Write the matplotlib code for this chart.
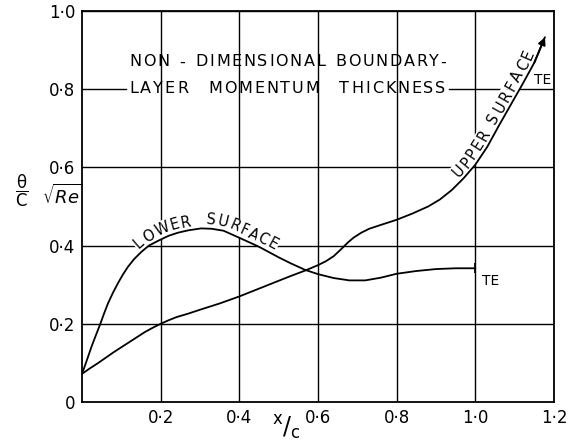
import numpy as np
import matplotlib
matplotlib.use('Agg')
import matplotlib.pyplot as plt

# ---- data ----
upper_x = [0, 0.02, 0.04, 0.06, 0.08, 0.1, 0.12, 0.14, 0.16, 0.18, 0.2, 0.22, 0.24, 0.27,
           0.3, 0.35, 0.4, 0.45, 0.5, 0.53, 0.567, 0.6, 0.62, 0.64, 0.66, 0.675, 0.69,
           0.71, 0.73, 0.76, 0.8, 0.84, 0.88, 0.91, 0.94, 0.97, 1.0, 1.03, 1.06, 1.09,
           1.12, 1.15, 1.177]
upper_y = [0.072, 0.086, 0.099, 0.113, 0.127, 0.14, 0.153, 0.166, 0.179, 0.19, 0.2, 0.209,
           0.217, 0.226, 0.236, 0.252, 0.27, 0.29, 0.31, 0.322, 0.336, 0.35, 0.36, 0.373,
           0.392, 0.407, 0.42, 0.433, 0.443, 0.453, 0.466, 0.482, 0.5, 0.518, 0.542, 0.572,
           0.607, 0.652, 0.707, 0.76, 0.813, 0.868, 0.933]

lower_x = [0, 0.01, 0.024, 0.035, 0.047, 0.056, 0.066, 0.078, 0.0915, 0.104, 0.117, 0.133,
           0.151, 0.17, 0.197, 0.22, 0.244, 0.27, 0.303, 0.33, 0.36, 0.4, 0.45, 0.5, 0.53,
           0.567, 0.6, 0.64, 0.68, 0.72, 0.76, 0.8, 0.85, 0.9, 0.95, 1.0]
lower_y = [0.072, 0.1, 0.141, 0.17, 0.201, 0.226, 0.252, 0.278, 0.304, 0.326, 0.346, 0.366,
           0.384, 0.4, 0.414, 0.425, 0.433, 0.439, 0.444, 0.443, 0.438, 0.42, 0.397, 0.37,
           0.355, 0.338, 0.327, 0.317, 0.311, 0.311, 0.318, 0.328, 0.335, 0.34, 0.342, 0.342]

x_ticks = [0.2, 0.4, 0.6, 0.8, 1.0, 1.2]
x_tick_labels = ['0·2', '0·4', '0·6', '0·8', '1·0', '1·2']
y_ticks = [0, 0.2, 0.4, 0.6, 0.8, 1.0]
y_tick_labels = ['0', '0·2', '0·4', '0·6', '0·8', '1·0']

title_lines = ['NON - DIMENSIONAL BOUNDARY-', 'LAYER  MOMENTUM  THICKNESS']
title_gridline = 0.8
upper_label = 'UPPER SURFACE'
lower_label = 'LOWER  SURFACE'
te_label = 'TE'

# ---- figure ----
fig = plt.figure(figsize=(5.68, 4.42), dpi=100)
ax = fig.add_axes([82 / 568, 40 / 442, 472 / 568, 391 / 442])
ax.set_xlim(0, 1.2)
ax.set_ylim(0, 1.0)
ax.set_xticks(x_ticks)
ax.set_xticklabels(x_tick_labels)
ax.set_yticks(y_ticks)
ax.set_yticklabels(y_tick_labels)
ax.tick_params(length=0, labelsize=12, pad=5)
ax.grid(True, axis='x', color='black', lw=1.0, zorder=1)
for s in ax.spines.values():
    s.set_linewidth(1.3)

fig.canvas.draw()
renderer = fig.canvas.get_renderer()
inv = ax.transData.inverted()


def char_widths(text, fontsize, space_factor):
    widths = []
    for ch in text:
        t = ax.text(0, 0, ch if ch != ' ' else 'n', fontsize=fontsize)
        w = t.get_window_extent(renderer).width
        if ch == ' ':
            w *= space_factor
        t.remove()
        widths.append(w)
    return np.array(widths)


def tracked_line(ax, text, xc, y, target_px, fontsize):
    """Draw one title line letter by letter, spread to target width (pixels)."""
    widths = char_widths(text, fontsize, 0.7)
    track = (target_px - widths.sum()) / (len(text) - 1)
    cx, cy = ax.transData.transform((xc, y))
    left = cx - target_px / 2
    pos = left
    for ch, w in zip(text, widths):
        if ch != ' ':
            dx, dy = inv.transform((pos + w / 2, cy))
            ax.text(dx, dy, ch, fontsize=fontsize, ha='center', va='center', zorder=4)
        pos += w + track
    return left, left + target_px


title_xc = 0.5225
l1 = tracked_line(ax, title_lines[0], title_xc, 0.87, 317, 11.5)
l2 = tracked_line(ax, title_lines[1], title_xc, 0.803, 316, 11.5)

# horizontal grid lines, the 0.8 one broken by the title
ax_left = ax.transAxes.transform((0, 0))[0]
ax_w = ax.transAxes.transform((1, 0))[0] - ax_left
gap0 = (min(l1[0], l2[0]) - 3 - ax_left) / ax_w
gap1 = (max(l1[1], l2[1]) + 3 - ax_left) / ax_w
for yv in y_ticks[1:]:
    if yv == title_gridline:
        ax.axhline(yv, xmin=0, xmax=gap0, color='black', lw=1.0, zorder=1)
        ax.axhline(yv, xmin=gap1, xmax=1, color='black', lw=1.0, zorder=1)
    else:
        ax.axhline(yv, color='black', lw=1.0, zorder=1)

ax.plot(upper_x, upper_y, color='black', lw=1.3, zorder=5, solid_capstyle='round')
ax.plot(lower_x, lower_y, color='black', lw=1.3, zorder=5, solid_capstyle='round')
ax.annotate('', xy=(upper_x[-1], upper_y[-1]), xytext=(upper_x[-2], upper_y[-2]),
            arrowprops=dict(arrowstyle='-|>', color='black', lw=1.3,
                            mutation_scale=11, shrinkA=0, shrinkB=0), zorder=6)
ax.plot(lower_x[-1], lower_y[-1], marker='|', ms=7, mew=1.3, color='black', zorder=6)

ax.text(1.018, 0.327, te_label, ha='left', va='top', fontsize=10, zorder=6)
ax.text(1.150, 0.806, te_label, ha='left', va='bottom', fontsize=10, zorder=6)


def text_on_curve(ax, xs, ys, text, x0, x1, offset, fontsize):
    xs = np.asarray(xs, float)
    ys = np.asarray(ys, float)
    pts = ax.transData.transform(np.column_stack([xs, ys]))
    seg = np.hypot(*np.diff(pts, axis=0).T)
    s = np.concatenate([[0], np.cumsum(seg)])
    s0 = np.interp(x0, xs, s)
    s1 = np.interp(x1, xs, s)
    widths = char_widths(text, fontsize, 0.6)
    scale = (s1 - s0) / widths.sum()
    centers = s0 + scale * (np.cumsum(widths) - widths / 2)
    for ch, sc in zip(text, centers):
        if ch == ' ':
            continue
        px = np.interp(sc, s, pts[:, 0])
        py = np.interp(sc, s, pts[:, 1])
        pxa = np.interp(sc - 6, s, pts[:, 0])
        pya = np.interp(sc - 6, s, pts[:, 1])
        pxb = np.interp(sc + 6, s, pts[:, 0])
        pyb = np.interp(sc + 6, s, pts[:, 1])
        tx, ty = pxb - pxa, pyb - pya
        n = np.hypot(tx, ty)
        tx, ty = tx / n, ty / n
        nx, ny = -ty, tx
        cx, cy = px + offset * nx, py + offset * ny
        dx, dy = inv.transform((cx, cy))
        ang = np.degrees(np.arctan2(ty, tx))
        ax.text(dx, dy, ch, fontsize=fontsize, rotation=ang, rotation_mode='anchor',
                ha='center', va='center', zorder=4,
                bbox=dict(facecolor='white', edgecolor='none', pad=0.8))


text_on_curve(ax, lower_x, lower_y, lower_label, 0.15, 0.485, 8.5, 10.5)
text_on_curve(ax, upper_x, upper_y, upper_label, 0.962, 1.16, 8.0, 10.5)

fig.text(22 / 568, 1 - 191 / 442, r'$\dfrac{\mathrm{\theta}}{\mathrm{C}}$', fontsize=12,
         ha='center', va='center')
fig.text(62 / 568, 1 - 196 / 442, r'$\sqrt{Re}$', fontsize=13, ha='center', va='center')
fig.text(286 / 568, 1 - 428 / 442, r'$^{\mathrm{x}}/_{\mathrm{c}}$', fontsize=17,
         ha='center', va='center')

fig.savefig('out.png', dpi=100)
